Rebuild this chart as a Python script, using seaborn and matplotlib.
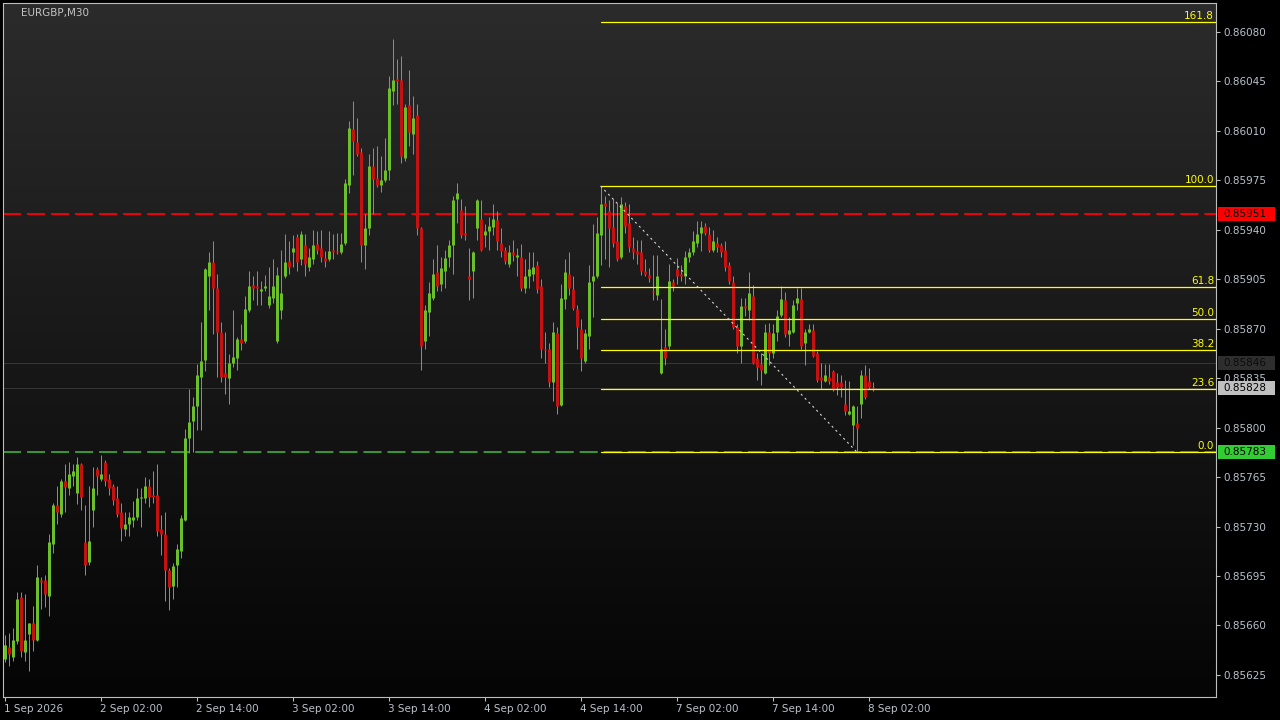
import numpy as np
import pandas as pd
import seaborn as sns
import matplotlib.pyplot as plt
import matplotlib.transforms as mtransforms
from matplotlib.patches import Rectangle
from matplotlib.colors import LinearSegmentedColormap

# EURGBP M30 candles (bar 0 = leftmost)
opens = [0.85636, 0.85645, 0.85638, 0.85649, 0.85680, 0.85641, 0.85654, 0.85662, 0.85650, 0.85692,
         0.85692, 0.85681, 0.85718, 0.85745, 0.85739, 0.85762, 0.85757, 0.85766, 0.85754, 0.85774,
         0.85719, 0.85705, 0.85742, 0.85771, 0.85764, 0.85776, 0.85764, 0.85759, 0.85750, 0.85740,
         0.85728, 0.85732, 0.85735, 0.85737, 0.85750, 0.85750, 0.85759, 0.85752, 0.85752, 0.85728,
         0.85725, 0.85699, 0.85688, 0.85703, 0.85713, 0.85735, 0.85793, 0.85805, 0.85815, 0.85836,
         0.85848, 0.85907, 0.85917, 0.85899, 0.85868, 0.85839, 0.85835, 0.85846, 0.85849, 0.85863,
         0.85861, 0.85883, 0.85901, 0.85900, 0.85897, 0.85899, 0.85887, 0.85892, 0.85861, 0.85883,
         0.85907, 0.85918, 0.85924, 0.85935, 0.85919, 0.85929, 0.85914, 0.85919, 0.85930, 0.85927,
         0.85920, 0.85919, 0.85926, 0.85925, 0.85924, 0.85931, 0.85972, 0.86011, 0.86002, 0.85995,
         0.85929, 0.85941, 0.85985, 0.85977, 0.85972, 0.85975, 0.85982, 0.86038, 0.86047, 0.86046,
         0.85991, 0.86028, 0.86008, 0.86021, 0.85941, 0.85861, 0.85882, 0.85892, 0.85910, 0.85902,
         0.85911, 0.85921, 0.85929, 0.85962, 0.85954, 0.85938, 0.85907, 0.85911, 0.85941, 0.85948,
         0.85936, 0.85939, 0.85942, 0.85947, 0.85931, 0.85926, 0.85916, 0.85924, 0.85921, 0.85921,
         0.85899, 0.85907, 0.85909, 0.85915, 0.85900, 0.85856, 0.85856, 0.85832, 0.85867, 0.85816,
         0.85891, 0.85909, 0.85898, 0.85884, 0.85870, 0.85847, 0.85865, 0.85904, 0.85907, 0.85936,
         0.85959, 0.85953, 0.85942, 0.85932, 0.85921, 0.85957, 0.85945, 0.85927, 0.85925, 0.85924,
         0.85911, 0.85908, 0.85897, 0.85894, 0.85839, 0.85857, 0.85858, 0.85903, 0.85912, 0.85909,
         0.85907, 0.85921, 0.85924, 0.85931, 0.85938, 0.85943, 0.85937, 0.85926, 0.85931, 0.85929,
         0.85926, 0.85915, 0.85903, 0.85871, 0.85858, 0.85886, 0.85883, 0.85893, 0.85849, 0.85845,
         0.85839, 0.85868, 0.85853, 0.85868, 0.85880, 0.85890, 0.85866, 0.85868, 0.85888, 0.85891,
         0.85860, 0.85868, 0.85869, 0.85853, 0.85836, 0.85833, 0.85836, 0.85840, 0.85832, 0.85832,
         0.85817, 0.85810, 0.85802, 0.85803, 0.85817, 0.85837, 0.85833, 0.85829]

highs = [0.85653, 0.85655, 0.85658, 0.85684, 0.85684, 0.85682, 0.85662, 0.85674, 0.85703, 0.85694,
         0.85696, 0.85725, 0.85747, 0.85759, 0.85764, 0.85774, 0.85776, 0.85774, 0.85779, 0.85775,
         0.85745, 0.85759, 0.85772, 0.85772, 0.85781, 0.85777, 0.85767, 0.85760, 0.85759, 0.85747,
         0.85740, 0.85740, 0.85748, 0.85757, 0.85757, 0.85765, 0.85764, 0.85769, 0.85774, 0.85738,
         0.85740, 0.85701, 0.85704, 0.85718, 0.85738, 0.85799, 0.85827, 0.85822, 0.85845, 0.85875,
         0.85913, 0.85924, 0.85932, 0.85909, 0.85875, 0.85868, 0.85852, 0.85883, 0.85864, 0.85873,
         0.85893, 0.85911, 0.85907, 0.85911, 0.85904, 0.85908, 0.85914, 0.85919, 0.85914, 0.85926,
         0.85937, 0.85932, 0.85936, 0.85937, 0.85939, 0.85937, 0.85927, 0.85940, 0.85939, 0.85940,
         0.85925, 0.85939, 0.85937, 0.85938, 0.85938, 0.85976, 0.86017, 0.86031, 0.86019, 0.85998,
         0.85951, 0.85994, 0.85998, 0.85999, 0.85992, 0.86005, 0.86049, 0.86075, 0.86061, 0.86063,
         0.86029, 0.86053, 0.86035, 0.86029, 0.85942, 0.85887, 0.85903, 0.85919, 0.85929, 0.85921,
         0.85926, 0.85933, 0.85964, 0.85973, 0.85962, 0.85957, 0.85927, 0.85925, 0.85962, 0.85961,
         0.85944, 0.85949, 0.85958, 0.85953, 0.85941, 0.85928, 0.85929, 0.85933, 0.85927, 0.85930,
         0.85919, 0.85924, 0.85924, 0.85918, 0.85905, 0.85868, 0.85860, 0.85875, 0.85871, 0.85902,
         0.85919, 0.85924, 0.85907, 0.85887, 0.85877, 0.85870, 0.85915, 0.85944, 0.85949, 0.85971,
         0.85964, 0.85961, 0.85962, 0.85959, 0.85963, 0.85960, 0.85958, 0.85935, 0.85933, 0.85933,
         0.85919, 0.85913, 0.85922, 0.85922, 0.85891, 0.85870, 0.85916, 0.85905, 0.85920, 0.85915,
         0.85925, 0.85927, 0.85939, 0.85946, 0.85946, 0.85945, 0.85942, 0.85940, 0.85935, 0.85931,
         0.85932, 0.85917, 0.85907, 0.85873, 0.85892, 0.85892, 0.85910, 0.85901, 0.85853, 0.85853,
         0.85873, 0.85874, 0.85873, 0.85883, 0.85900, 0.85896, 0.85878, 0.85890, 0.85899, 0.85899,
         0.85870, 0.85873, 0.85873, 0.85854, 0.85846, 0.85845, 0.85845, 0.85841, 0.85839, 0.85837,
         0.85834, 0.85833, 0.85816, 0.85815, 0.85841, 0.85844, 0.85842, 0.85832]

lows = [0.85634, 0.85631, 0.85635, 0.85647, 0.85638, 0.85635, 0.85628, 0.85642, 0.85649, 0.85672,
        0.85673, 0.85667, 0.85711, 0.85732, 0.85737, 0.85740, 0.85752, 0.85759, 0.85746, 0.85742,
        0.85696, 0.85703, 0.85730, 0.85752, 0.85762, 0.85759, 0.85752, 0.85745, 0.85737, 0.85720,
        0.85723, 0.85723, 0.85730, 0.85735, 0.85730, 0.85747, 0.85744, 0.85747, 0.85723, 0.85710,
        0.85677, 0.85671, 0.85679, 0.85687, 0.85708, 0.85734, 0.85782, 0.85783, 0.85798, 0.85798,
        0.85840, 0.85883, 0.85866, 0.85836, 0.85832, 0.85824, 0.85817, 0.85843, 0.85841, 0.85855,
        0.85860, 0.85882, 0.85890, 0.85887, 0.85887, 0.85897, 0.85885, 0.85888, 0.85860, 0.85877,
        0.85906, 0.85909, 0.85914, 0.85911, 0.85915, 0.85907, 0.85911, 0.85916, 0.85923, 0.85917,
        0.85914, 0.85918, 0.85919, 0.85923, 0.85923, 0.85929, 0.85966, 0.85979, 0.85992, 0.85917,
        0.85912, 0.85936, 0.85951, 0.85970, 0.85967, 0.85974, 0.85975, 0.86028, 0.86029, 0.85987,
        0.85989, 0.85999, 0.85994, 0.85936, 0.85841, 0.85856, 0.85865, 0.85890, 0.85897, 0.85897,
        0.85899, 0.85914, 0.85909, 0.85945, 0.85934, 0.85933, 0.85890, 0.85892, 0.85933, 0.85925,
        0.85928, 0.85926, 0.85936, 0.85926, 0.85921, 0.85916, 0.85914, 0.85918, 0.85907, 0.85897,
        0.85895, 0.85899, 0.85904, 0.85895, 0.85849, 0.85846, 0.85829, 0.85819, 0.85810, 0.85815,
        0.85884, 0.85894, 0.85883, 0.85856, 0.85840, 0.85846, 0.85856, 0.85878, 0.85906, 0.85915,
        0.85919, 0.85914, 0.85928, 0.85918, 0.85919, 0.85938, 0.85924, 0.85919, 0.85916, 0.85908,
        0.85907, 0.85903, 0.85890, 0.85890, 0.85838, 0.85844, 0.85856, 0.85897, 0.85902, 0.85904,
        0.85902, 0.85917, 0.85922, 0.85928, 0.85925, 0.85936, 0.85924, 0.85924, 0.85924, 0.85921,
        0.85911, 0.85902, 0.85870, 0.85853, 0.85846, 0.85879, 0.85876, 0.85845, 0.85834, 0.85830,
        0.85838, 0.85844, 0.85849, 0.85861, 0.85878, 0.85864, 0.85858, 0.85867, 0.85883, 0.85856,
        0.85844, 0.85867, 0.85850, 0.85832, 0.85827, 0.85832, 0.85831, 0.85826, 0.85823, 0.85822,
        0.85809, 0.85809, 0.85788, 0.85783, 0.85807, 0.85820, 0.85827, 0.85826]

closes = [0.85646, 0.85640, 0.85650, 0.85679, 0.85642, 0.85650, 0.85662, 0.85650, 0.85694, 0.85691,
          0.85682, 0.85719, 0.85745, 0.85740, 0.85762, 0.85758, 0.85767, 0.85769, 0.85774, 0.85751,
          0.85703, 0.85720, 0.85757, 0.85766, 0.85767, 0.85762, 0.85757, 0.85749, 0.85739, 0.85729,
          0.85732, 0.85737, 0.85737, 0.85750, 0.85751, 0.85759, 0.85751, 0.85751, 0.85727, 0.85725,
          0.85699, 0.85687, 0.85702, 0.85714, 0.85736, 0.85793, 0.85804, 0.85815, 0.85837, 0.85847,
          0.85912, 0.85917, 0.85899, 0.85868, 0.85836, 0.85836, 0.85846, 0.85850, 0.85863, 0.85860,
          0.85884, 0.85900, 0.85899, 0.85899, 0.85898, 0.85900, 0.85893, 0.85900, 0.85908, 0.85895,
          0.85917, 0.85914, 0.85927, 0.85917, 0.85937, 0.85916, 0.85921, 0.85929, 0.85926, 0.85921,
          0.85918, 0.85925, 0.85924, 0.85924, 0.85930, 0.85973, 0.86012, 0.86003, 0.85994, 0.85929,
          0.85941, 0.85985, 0.85976, 0.85972, 0.85975, 0.85982, 0.86040, 0.86046, 0.86045, 0.85992,
          0.86027, 0.86009, 0.86019, 0.85941, 0.85858, 0.85883, 0.85895, 0.85909, 0.85900, 0.85913,
          0.85920, 0.85929, 0.85961, 0.85966, 0.85936, 0.85936, 0.85905, 0.85924, 0.85961, 0.85926,
          0.85939, 0.85943, 0.85948, 0.85932, 0.85925, 0.85918, 0.85924, 0.85922, 0.85922, 0.85899,
          0.85907, 0.85912, 0.85914, 0.85898, 0.85856, 0.85855, 0.85832, 0.85868, 0.85815, 0.85892,
          0.85910, 0.85899, 0.85885, 0.85871, 0.85849, 0.85867, 0.85903, 0.85907, 0.85938, 0.85958,
          0.85957, 0.85941, 0.85931, 0.85919, 0.85958, 0.85943, 0.85928, 0.85924, 0.85923, 0.85911,
          0.85909, 0.85906, 0.85896, 0.85907, 0.85856, 0.85849, 0.85904, 0.85900, 0.85907, 0.85907,
          0.85921, 0.85924, 0.85932, 0.85937, 0.85942, 0.85938, 0.85926, 0.85932, 0.85928, 0.85924,
          0.85914, 0.85904, 0.85871, 0.85858, 0.85886, 0.85885, 0.85895, 0.85846, 0.85843, 0.85841,
          0.85868, 0.85853, 0.85867, 0.85879, 0.85891, 0.85866, 0.85869, 0.85887, 0.85892, 0.85858,
          0.85868, 0.85870, 0.85851, 0.85834, 0.85834, 0.85837, 0.85833, 0.85827, 0.85829, 0.85829,
          0.85812, 0.85812, 0.85815, 0.85800, 0.85837, 0.85822, 0.85829, 0.85828]

tick_bars = [0, 24, 48, 72, 96, 120, 144, 168, 192, 216]
tick_labels = ['1 Sep 2026', '2 Sep 02:00', '2 Sep 14:00', '3 Sep 02:00', '3 Sep 14:00',
               '4 Sep 02:00', '4 Sep 14:00', '7 Sep 02:00', '7 Sep 14:00', '8 Sep 02:00']
price_ticks = [0.85625, 0.85660, 0.85695, 0.85730, 0.85765, 0.85800, 0.85835,
               0.85870, 0.85905, 0.85940, 0.85975, 0.86010, 0.86045, 0.86080]

red_line = 0.85951
green_line = 0.85783
grey_lines = [0.85846, 0.85828]
bid_price = 0.85828

# fibonacci retracement anchors
fib_start_bar, fib_high = 149, 0.85971
fib_end_bar, fib_low = 213, 0.85783
fib_levels = [0.0, 23.6, 38.2, 50.0, 61.8, 100.0, 161.8]

df = pd.DataFrame({'open': opens, 'high': highs, 'low': lows, 'close': closes})
df['bar'] = np.arange(len(df))
df['up'] = df['close'] > df['open']

sns.set_theme(style='dark')
plt.rcParams['font.family'] = ['DejaVu Sans']
plt.rcParams['lines.scale_dashes'] = False

axis_col = '#b8c2cc'
fig = plt.figure(figsize=(12.8, 7.2), dpi=100, facecolor='black')
ax = fig.add_axes([3 / 1280, 23 / 720, 1213 / 1280, 694 / 720])
ax.set_facecolor('black')

# 4 px per bar, bar centres on pixel centres
xmin, xmax = -0.375, -0.375 + 1213 / 4
ymin, ymax = 0.856094, 0.861005

# background gradient
grad = np.linspace(0, 1, 256).reshape(-1, 1)
bg = LinearSegmentedColormap.from_list('bg', ['#2b2b2b', '#050505'])
ax.imshow(grad, extent=[xmin, xmax, ymin, ymax], aspect='auto', cmap=bg,
          origin='upper', zorder=0, interpolation='bicubic')

# horizontal lines
for g in grey_lines:
    ax.axhline(g, color='#363636', lw=0.72, zorder=1)
ax.axhline(red_line, color='#ff0000', lw=1.3, dashes=(13, 4.3), zorder=1.2)
ax.axhline(green_line, color='#3fbf3f', lw=1.1, dashes=(13, 4.3), zorder=1.2)

# candles: 1 px wick, 3 px body
min_body = 0.0000075
mid = (df['open'] + df['close']) / 2
half = np.maximum((df['close'] - df['open']).abs(), min_body) / 2
colors = np.where(df['up'], '#6cbf2a', '#c41212')
ax.vlines(df['bar'], df['low'], df['high'], color='#8a8a8a', lw=0.72, zorder=2)
ax.vlines(df['bar'], mid - half, mid + half, colors=colors, lw=2.16,
          capstyle='butt', zorder=3)

# fibonacci
rng = fib_high - fib_low
for lvl in fib_levels:
    price = fib_low + lvl / 100 * rng
    ax.plot([fib_start_bar, xmax], [price, price], color='#ffff00', lw=0.9, zorder=4)
    ax.annotate(f'{lvl:.1f}', xy=(1, price), xycoords=('axes fraction', 'data'),
                xytext=(-2, 1), textcoords='offset pixels', ha='right', va='bottom',
                color='#ffff00', fontsize=7.5, zorder=6)
ax.plot([fib_start_bar, fib_end_bar], [fib_high, fib_low], color='#d8d8d8',
        lw=0.8, dashes=(1.5, 2.5), zorder=4)

ax.set_xlim(xmin, xmax)
ax.set_ylim(ymin, ymax)

# axes styling
for sp in ax.spines.values():
    sp.set_visible(True)
    sp.set_color('#bdbdbd')
    sp.set_linewidth(0.8)
ax.yaxis.tick_right()
ax.set_yticks(price_ticks)
ax.set_yticklabels([f'{p:.5f}' for p in price_ticks])
ax.set_xticks(tick_bars)
ax.set_xticklabels(tick_labels)
for lab in ax.get_xticklabels():
    lab.set_horizontalalignment('left')
ax.tick_params(axis='y', which='both', right=True, left=False, length=3, width=0.8,
               color='#bdbdbd', pad=2, labelsize=7.5, labelcolor=axis_col, direction='out')
ax.tick_params(axis='x', which='both', bottom=True, length=3, width=0.8,
               color='#bdbdbd', pad=2, labelsize=7.5, labelcolor=axis_col, direction='out')
ax.grid(False)
ax.set_xlabel('')
ax.set_ylabel('')

# price tags on the right scale
blend = mtransforms.blended_transform_factory(fig.transFigure, ax.transData)
box_h = 14 / 141318
tags = [(red_line, '#ff0000', '#000000'),
        (grey_lines[0], '#2e2e2e', '#0c0c0c'),
        (bid_price, '#c0c0c0', '#000000'),
        (green_line, '#32cd32', '#000000')]
for price, fc, tc in tags:
    ax.add_patch(Rectangle((1218 / 1280, price - box_h / 2), 57 / 1280, box_h,
                           transform=blend, facecolor=fc, edgecolor='none',
                           clip_on=False, zorder=7))
    ax.text(1223 / 1280, price, f'{price:.5f}', transform=blend, ha='left',
            va='center', color=tc, fontsize=7.5, clip_on=False, zorder=8)

fig.text(21 / 1280, 1 - 13 / 720, 'EURGBP,M30', color='#c4c4c4', fontsize=7.5,
         ha='left', va='center')

fig.savefig('out.png', dpi=100, facecolor='black')
